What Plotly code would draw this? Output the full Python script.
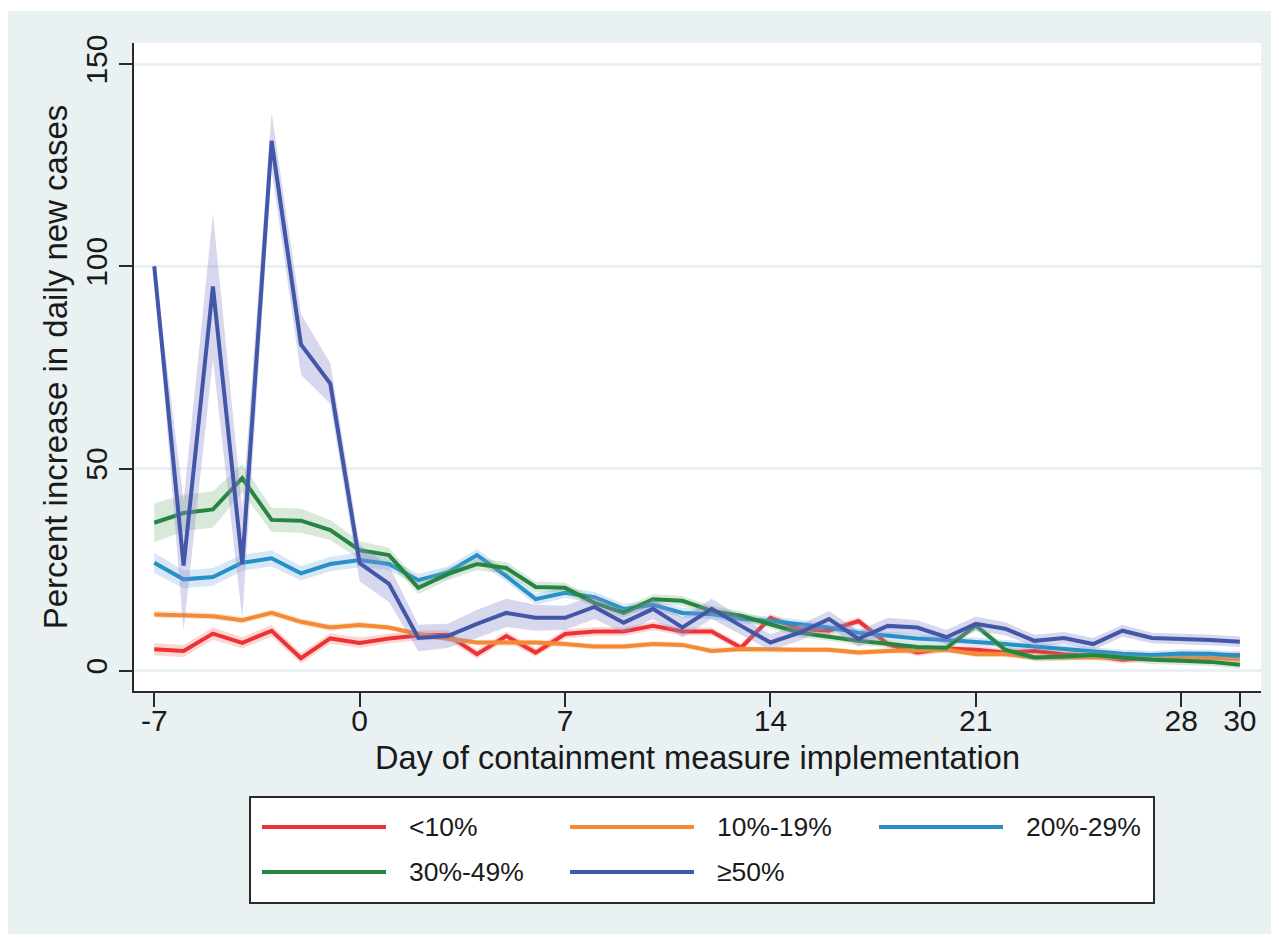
import plotly.graph_objects as go

# ---------------- data ----------------
days = list(range(-7, 31))

series_names = ["<10%", "10%-19%", "20%-29%", "30%-49%", "\u226550%"]

lt10 = [5.3, 4.9, 9.2, 6.9, 9.9, 3.1, 8.0, 6.9, 8.0, 8.7, 8.9, 4.1, 8.6, 4.5, 9.1,
        9.7, 9.7, 11.1, 9.7, 9.7, 5.7, 13.1, 10.3, 9.9, 12.3, 6.6, 4.5, 5.5, 5.2,
        4.5, 4.9, 4.1, 3.7, 2.7, 3.3, 3.2, 3.3, 3.9]
lt10_ci = [1.5, 1.5, 1.5, 1.4, 1.4, 1.3, 1.3, 1.3, 1.2, 1.2, 1.2, 1.1, 1.1, 1.1, 1.1,
           1.1, 1.1, 1.1, 1.0, 1.0, 1.0, 1.0, 1.0, 1.0, 1.0, 1.0, 0.9, 0.9, 0.9,
           0.9, 0.9, 0.9, 0.9, 0.9, 0.9, 0.9, 0.9, 0.9]

p10_19 = [13.9, 13.8, 13.5, 12.5, 14.3, 12.1, 10.7, 11.3, 10.7, 9.1, 7.9, 7.0, 6.9,
          7.0, 6.6, 6.0, 6.0, 6.6, 6.4, 4.9, 5.4, 5.2, 5.2, 5.2, 4.5, 4.9, 5.0, 5.2,
          4.1, 4.1, 3.3, 3.3, 3.5, 3.3, 3.3, 3.3, 3.2, 2.8]
p10_19_ci = [0.8] * 8 + [0.7] * 30

p20_29 = [26.7, 22.6, 23.2, 26.7, 27.8, 24.1, 26.4, 27.4, 26.4, 22.4, 24.3, 28.6,
          23.4, 17.7, 19.3, 18.2, 15.3, 16.3, 14.3, 14.0, 12.8, 12.3, 11.5, 10.7,
          9.4, 8.6, 8.0, 7.6, 7.2, 6.6, 6.0, 5.4, 4.8, 4.2, 3.9, 4.3, 4.2, 3.7]
p20_29_ci = [2.5, 2.2, 2.2, 2.0, 2.0, 1.8, 1.8, 1.8, 1.5, 1.5, 1.5, 1.5, 1.4, 1.4,
             1.3, 1.3, 1.3, 1.2, 1.2, 1.2, 1.2, 1.1, 1.1, 1.1, 1.1, 1.0, 1.0, 1.0,
             1.0, 1.0, 1.0, 1.0, 1.0, 1.0, 1.0, 1.0, 1.0, 1.0]

p30_49 = [36.6, 39.0, 39.9, 47.6, 37.3, 37.1, 34.8, 29.8, 28.6, 20.5, 23.9, 26.4,
          25.4, 20.7, 20.5, 16.8, 14.3, 17.7, 17.3, 14.8, 13.6, 11.6, 9.4, 8.4, 7.4,
          6.7, 5.9, 5.7, 11.2, 5.2, 3.3, 3.5, 3.9, 3.3, 2.7, 2.5, 2.2, 1.5]
p30_49_ci = [4.8, 4.5, 4.5, 3.5, 3.0, 3.0, 2.5, 2.2, 1.8, 1.5, 1.5, 1.5, 1.5, 1.3,
             1.3, 1.2, 1.2, 1.2, 1.2, 1.2, 1.1, 1.1, 1.1, 1.0, 1.0, 1.0, 1.0, 1.0,
             1.0, 1.0, 1.0, 1.0, 1.0, 1.0, 1.0, 1.0, 1.0, 1.0]

p50 = [100.0, 26.0, 95.0, 26.4, 131.0, 80.7, 71.0, 26.6, 21.5, 8.1, 8.6, 11.6, 14.3,
       13.1, 13.1, 15.8, 11.9, 15.3, 10.7, 15.3, 11.1, 7.0, 9.4, 12.8, 7.9, 11.1,
       10.7, 8.3, 11.6, 10.4, 7.4, 8.1, 6.6, 9.9, 8.1, 7.9, 7.6, 7.2]
p50_ci = [1.0, 16.0, 18.0, 13.5, 7.0, 7.5, 5.0, 4.5, 4.5, 3.3, 3.0, 3.5, 3.5, 3.2,
          3.0, 3.0, 2.5, 2.5, 2.5, 2.5, 2.2, 2.0, 2.0, 2.0, 2.0, 2.0, 1.8, 1.8, 1.8,
          1.6, 1.5, 1.5, 1.5, 1.5, 1.3, 1.3, 1.3, 1.3]

x_ticks = [-7, 0, 7, 14, 21, 28, 30]
y_ticks = [0, 50, 100, 150]

x_title = "Day of containment measure implementation"
y_title = "Percent increase in daily new cases"

# ---------------- styles ----------------
line_colors = ["#EC3237", "#F58A35", "#2690C9", "#278544", "#4357A8"]
band_colors = ["rgba(245,120,100,0.30)", "rgba(248,160,90,0.30)",
               "rgba(110,170,220,0.28)", "rgba(120,175,120,0.28)",
               "rgba(140,140,205,0.35)"]
BG = "#E9F1F2"
AX = "#2a2a2a"
TXT = "#1a1a1a"
FONT = "Liberation Sans, Arial, sans-serif"

values = [lt10, p10_19, p20_29, p30_49, p50]
cis = [lt10_ci, p10_19_ci, p20_29_ci, p30_49_ci, p50_ci]

fig = go.Figure()
for name, v, ci, lc, bc in zip(series_names, values, cis, line_colors, band_colors):
    upper = [a + b for a, b in zip(v, ci)]
    lower = [a - b for a, b in zip(v, ci)]
    fig.add_trace(go.Scatter(
        x=days + days[::-1], y=upper + lower[::-1],
        fill="toself", fillcolor=bc, line=dict(width=0),
        hoverinfo="skip", showlegend=False))
    fig.add_trace(go.Scatter(
        x=days, y=v, mode="lines", name=name,
        line=dict(color=lc, width=4), showlegend=False))

# ---------------- layout geometry (pixels) ----------------
OFF = 8  # page body margin offset
W, H = 1279, 938
L, R, T, B = 126, 26, 35, 255
PW, PH = W - L - R, H - T - B


def px(xr):
    # screen x (reference pixels) -> paper
    return (xr - OFF - L) / PW


def py(yr):
    # screen y (reference pixels) -> paper
    return (H - B - (yr - OFF)) / PH


shapes = []
# white page margins around the light graph region
shapes.append(dict(type="rect", xref="paper", yref="paper",
                   x0=px(-20), x1=px(W + 20), y0=py(11), y1=py(-20),
                   fillcolor="white", line=dict(width=0), layer="below"))
shapes.append(dict(type="rect", xref="paper", yref="paper",
                   x0=px(-20), x1=px(W + 20), y0=py(H + 30), y1=py(934),
                   fillcolor="white", line=dict(width=0), layer="below"))

# legend box
box_l, box_r, box_t, box_b = 250, 1154, 797, 903
shapes.append(dict(type="rect", xref="paper", yref="paper",
                   x0=px(box_l), x1=px(box_r), y0=py(box_b), y1=py(box_t),
                   fillcolor="white", line=dict(color=AX, width=2)))

annotations = []
col_x = [262, 570, 879]
row_y = [827, 872]
for i, (name, lc) in enumerate(zip(series_names, line_colors)):
    r, c = divmod(i, 3)
    x0 = col_x[c]
    y0 = row_y[r]
    shapes.append(dict(type="line", xref="paper", yref="paper",
                       x0=px(x0), x1=px(x0 + 124), y0=py(y0), y1=py(y0),
                       line=dict(color=lc, width=4)))
    annotations.append(dict(xref="paper", yref="paper", x=px(x0 + 145), y=py(y0),
                            text=name, showarrow=False, xanchor="left",
                            yanchor="middle",
                            font=dict(size=26.5, color=TXT, family=FONT)))

fig.update_layout(
    width=W, height=H,
    margin=dict(l=L, r=R, t=T, b=B, pad=0),
    paper_bgcolor=BG, plot_bgcolor="white",
    font=dict(family=FONT, color=TXT),
    showlegend=False,
    shapes=shapes, annotations=annotations,
    xaxis=dict(
        range=[-7.69, 30.72], tickvals=x_ticks, ticktext=[str(t) for t in x_ticks],
        showgrid=False, zeroline=False,
        showline=True, linecolor=AX, linewidth=2,
        ticks="outside", ticklen=14, tickwidth=2, tickcolor=AX,
        ticklabelstandoff=-12,
        tickfont=dict(size=30, color=TXT),
        title=dict(text=x_title, font=dict(size=32.5, color=TXT), standoff=10),
    ),
    yaxis=dict(
        range=[-5.0, 155.2], tickvals=y_ticks, ticktext=[str(t) for t in y_ticks],
        showgrid=True, gridcolor=BG, gridwidth=3, zeroline=False,
        showline=True, linecolor=AX, linewidth=2,
        ticks="outside", ticklen=13, tickwidth=2, tickcolor=AX,
        tickangle=-90,
        tickfont=dict(size=30, color=TXT),
        title=dict(text=y_title, font=dict(size=33, color=TXT), standoff=2),
    ),
)

fig.write_html("out.html")
